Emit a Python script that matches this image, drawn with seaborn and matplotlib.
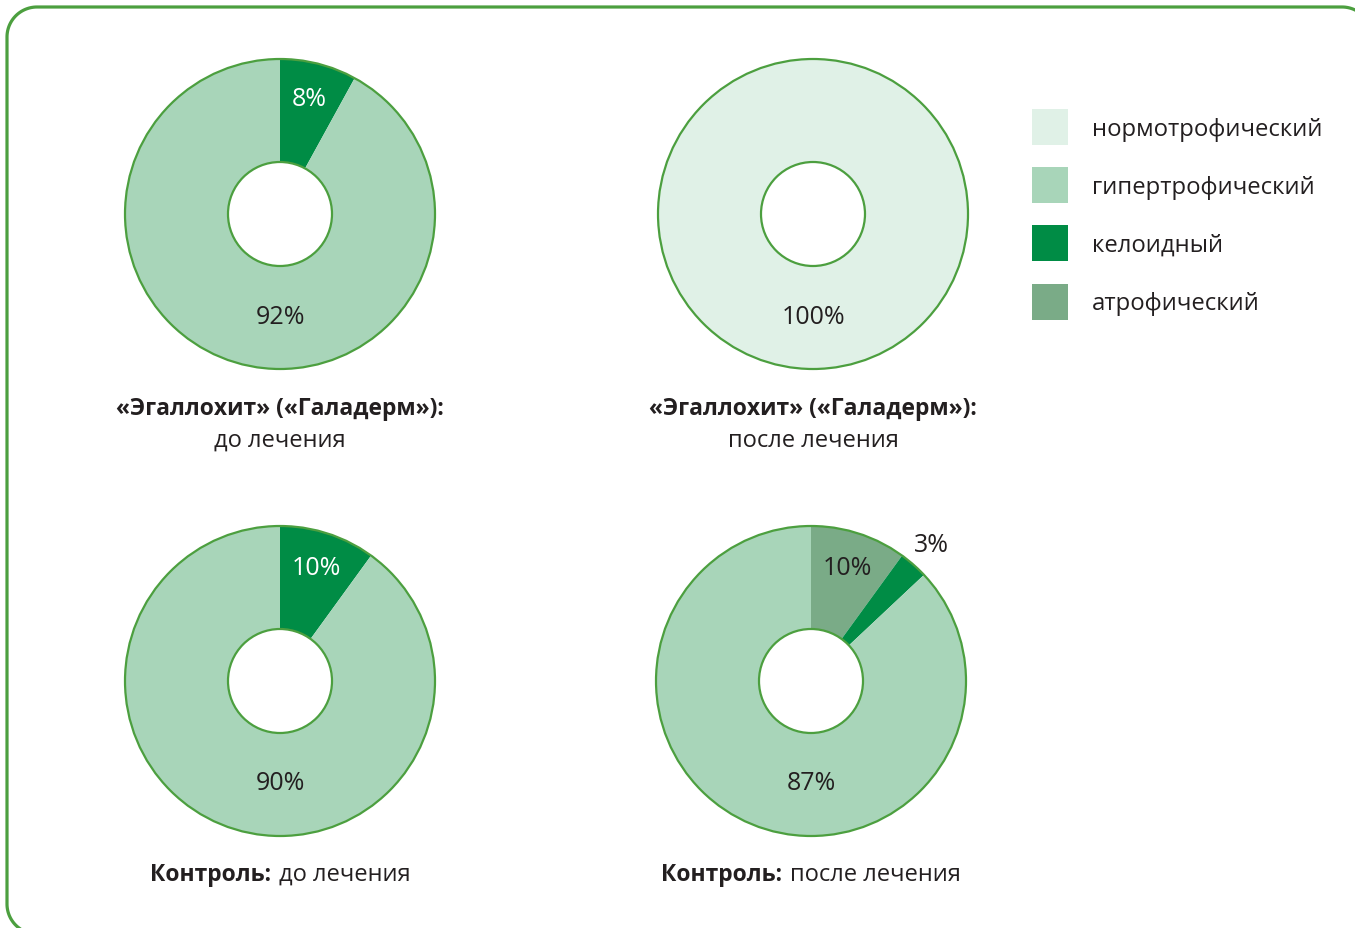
import numpy as np
import matplotlib
matplotlib.use('Agg')
import matplotlib.pyplot as plt
import seaborn as sns
from matplotlib.patches import Circle, Patch
from matplotlib.offsetbox import TextArea, HPacker, AnnotationBbox

# categories and colours
categories = ['нормотрофический', 'гипертрофический', 'келоидный', 'атрофический']
palette = ['#e0f1e7', '#a8d5b9', '#008c45', '#7aab87']
draw_order = ['атрофический', 'келоидный', 'гипертрофический', 'нормотрофический']

# shares in %, in category order
egal_before = [0, 92, 8, 0]
egal_after = [100, 0, 0, 0]
control_before = [0, 90, 10, 0]
control_after = [0, 87, 3, 10]

titles_bold = ['«Эгаллохит» («Галадерм»):', '«Эгаллохит» («Галадерм»):', 'Контроль:', 'Контроль:']
titles_reg = ['до лечения', 'после лечения', 'до лечения', 'после лечения']

sns.set_style('white')
plt.rcParams['font.family'] = ['Open Sans', 'DejaVu Sans']

W, H = 1355, 929
fig = plt.figure(figsize=(W / 100, H / 100), dpi=100)
ax = fig.add_axes([0, 0, 1, 1])
ax.set_xlim(0, W)
ax.set_ylim(0, H)
ax.set_aspect('equal')
ax.axis('off')

OUTLINE = '#4c9f3f'
DARK = '#231f20'
R_OUT, R_IN = 155, 52
FS_PCT, FS_BOLD, FS_REG, FS_LEG = 18, 16.5, 17, 17.2

# rounded frame (pixel box 7..1372 x 8..935), running off right and bottom
left, right, top, bottom, rad = 7, 1372, H - 8, H - 935, 30
t = np.linspace(0, np.pi / 2, 30)
fx = np.concatenate([right - rad + rad * np.cos(t), left + rad - rad * np.sin(t),
                     left + rad - rad * np.cos(t), right - rad + rad * np.sin(t)])
fy = np.concatenate([top - rad + rad * np.sin(t), top - rad + rad * np.cos(t),
                     bottom + rad - rad * np.sin(t), bottom + rad - rad * np.cos(t)])
ax.plot(np.append(fx, fx[0]), np.append(fy, fy[0]), color=OUTLINE, lw=2.3,
        clip_on=False, solid_capstyle='round')

layout = [(280, 215, 'two'), (813, 215, 'two'), (280, 682, 'one'), (811, 682, 'one')]
data = [egal_before, egal_after, control_before, control_after]

for (cx, cy_px, mode), vals, tb, tr in zip(layout, data, titles_bold, titles_reg):
    cy = H - cy_px
    shares = dict(zip(categories, vals))
    order = [c for c in draw_order if shares[c] > 0]
    sizes = [shares[c] for c in order]
    cols = [palette[categories.index(c)] for c in order]
    wedges, _ = ax.pie(sizes, colors=cols, radius=R_OUT, center=(cx, cy),
                       startangle=90, counterclock=False, frame=True,
                       wedgeprops=dict(width=R_OUT - R_IN, edgecolor='none', linewidth=0))
    ax.add_patch(Circle((cx, cy), R_OUT, fc='none', ec=OUTLINE, lw=1.6))
    ax.add_patch(Circle((cx, cy), R_IN, fc='white', ec=OUTLINE, lw=1.6))

    biggest = max(sizes)
    for w, c, s in zip(wedges, order, sizes):
        label = f'{s}%'
        if s == biggest:
            x, y = cx, cy - 102
        else:
            mid = np.deg2rad((w.theta1 + w.theta2) / 2)
            r = 119 if s >= 5 else 182
            x, y = cx + r * np.cos(mid), cy + r * np.sin(mid)
        color = 'white' if (c == 'келоидный' and s >= 5) else DARK
        ax.text(x, y, label, ha='center', va='center', fontsize=FS_PCT, color=color)

    # caption under each donut
    if mode == 'two':
        ax.text(cx, H - 409, tb, ha='center', va='center', fontsize=FS_BOLD,
                fontweight='bold', color=DARK)
        ax.text(cx, H - 441, tr, ha='center', va='center', fontsize=FS_REG, color=DARK)
    else:
        box = HPacker(children=[
            TextArea(tb, textprops=dict(fontsize=FS_BOLD, fontweight='bold', color=DARK)),
            TextArea(tr, textprops=dict(fontsize=FS_REG, color=DARK))],
            align='baseline', pad=0, sep=6)
        ax.add_artist(AnnotationBbox(box, (cx, H - 875), frameon=False,
                                     box_alignment=(0.5, 0.5), pad=0))

ax.set_xlim(0, W)
ax.set_ylim(0, H)

handles = [Patch(facecolor=p, edgecolor='none') for p in palette]
leg = ax.legend(handles, categories, loc='upper left',
                bbox_to_anchor=(1032 / W, 1 - 110 / H), frameon=False,
                fontsize=FS_LEG, handlelength=1.5, handleheight=1.94,
                handletextpad=1.0, labelspacing=0.93, borderpad=0, borderaxespad=0)
for txt in leg.get_texts():
    txt.set_color(DARK)

fig.savefig('out.png', dpi=100)
